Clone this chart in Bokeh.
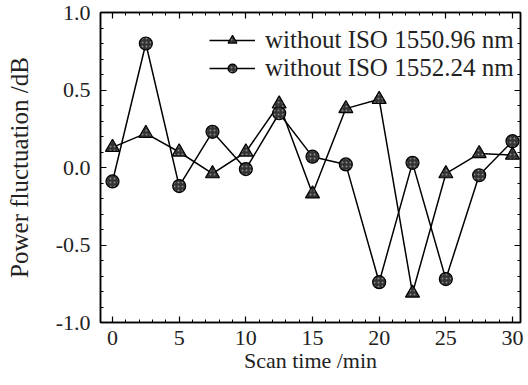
from bokeh.plotting import figure
from bokeh.models import (LinearAxis, Range1d, SingleIntervalTicker, NumeralTickFormatter,
                          Legend, LegendItem, CustomJSTickFormatter)
from bokeh.embed import file_html
from bokeh.resources import INLINE

scan_time = [0, 2.5, 5, 7.5, 10, 12.5, 15, 17.5, 20, 22.5, 25, 27.5, 30]
iso_1550 = [0.13, 0.22, 0.10, -0.04, 0.10, 0.41, -0.17, 0.38, 0.44, -0.81, -0.04, 0.09, 0.08]
iso_1552 = [-0.09, 0.80, -0.12, 0.23, -0.01, 0.35, 0.07, 0.02, -0.74, 0.03, -0.72, -0.05, 0.17]
label_1550 = "without ISO 1550.96 nm"
label_1552 = "without ISO 1552.24 nm"

FONT = "Liberation Serif"

p = figure(width=528, height=385, output_backend="svg", toolbar_location=None,
           x_range=Range1d(-0.9, 30.6), y_range=Range1d(-1.0, 1.0),
           min_border_left=100, min_border_right=8, min_border_top=12, min_border_bottom=63)
p.xgrid.visible = False
p.ygrid.visible = False
p.outline_line_color = "black"
p.outline_line_width = 1.5
p.background_fill_color = "white"

def style_axis(ax):
    ax.axis_line_color = "black"
    ax.axis_line_width = 1.5
    ax.major_tick_in = 6
    ax.major_tick_out = 0
    ax.minor_tick_in = 3
    ax.minor_tick_out = 0
    ax.major_tick_line_color = "black"
    ax.minor_tick_line_color = "black"
    ax.major_tick_line_width = 1.2
    ax.minor_tick_line_width = 1.0
    ax.major_label_text_font = FONT
    ax.major_label_text_font_size = "22px"
    ax.major_label_text_color = "#222222"
    ax.axis_label_text_font = FONT
    ax.axis_label_text_font_size = "22px"
    ax.axis_label_text_font_style = "normal"
    ax.axis_label_text_color = "#222222"

p.xaxis.ticker = SingleIntervalTicker(interval=5, num_minor_ticks=5)
p.yaxis.ticker = SingleIntervalTicker(interval=0.5, num_minor_ticks=5)
p.yaxis.formatter = NumeralTickFormatter(format="0.0")
p.xaxis.axis_label = "Scan time /min"
p.yaxis.axis_label = "Power fluctuation /dB"
style_axis(p.xaxis[0])
style_axis(p.yaxis[0])
p.yaxis.axis_label_text_font_size = "25px"
p.xaxis.major_label_standoff = 8
p.yaxis.major_label_standoff = 10
p.xaxis.axis_label_standoff = 0
p.yaxis.axis_label_standoff = 20

blank = CustomJSTickFormatter(code="return ''")
top = LinearAxis(ticker=SingleIntervalTicker(interval=5, num_minor_ticks=5), formatter=blank)
style_axis(top)
top.major_label_standoff = 0
p.add_layout(top, "above")
right = LinearAxis(ticker=SingleIntervalTicker(interval=0.5, num_minor_ticks=5), formatter=blank)
style_axis(right)
right.major_label_standoff = 0
p.add_layout(right, "right")

l1 = p.line(scan_time, iso_1550, line_color="black", line_width=1.5)
m1 = p.scatter(scan_time, iso_1550, marker="triangle", size=14, fill_color="#333333",
               line_color="black", line_width=1.2, hatch_pattern="dot", hatch_color="#888888",
               hatch_scale=4)
l2 = p.line(scan_time, iso_1552, line_color="black", line_width=1.5)
m2 = p.scatter(scan_time, iso_1552, marker="circle", size=13, fill_color="#333333",
               line_color="black", line_width=1.2, hatch_pattern="dot", hatch_color="#888888",
               hatch_scale=4)

legend = Legend(items=[LegendItem(label=label_1550, renderers=[l1, m1]),
                       LegendItem(label=label_1552, renderers=[l2, m2])],
                location=(107, 238))
legend.background_fill_alpha = 0
legend.border_line_alpha = 0
legend.label_text_font = FONT
legend.label_text_font_size = "25px"
legend.label_text_color = "#222222"
legend.glyph_width = 46
legend.glyph_height = 22
legend.label_standoff = 10
legend.spacing = 0
legend.padding = 2
legend.margin = 0
legend.label_height = 22
p.add_layout(legend)

open("out.html", "w").write(file_html(p, INLINE))
